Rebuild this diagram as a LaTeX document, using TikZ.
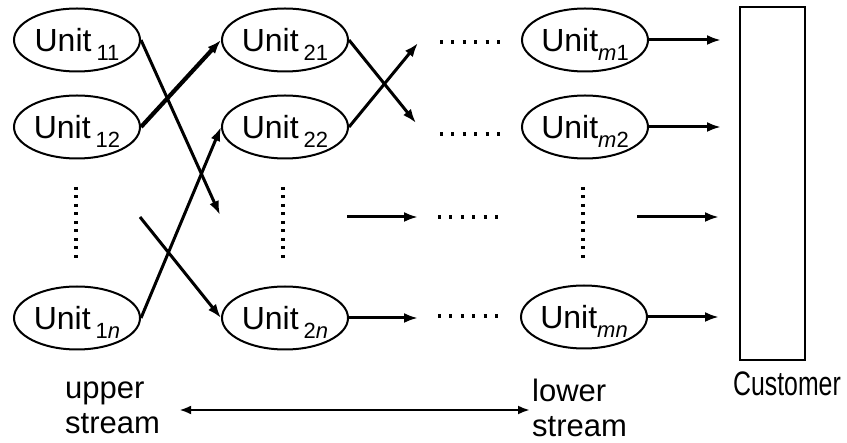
\documentclass[tikz,border=0pt]{standalone}
\usepackage{fontspec}
\setmainfont{Liberation Sans}
\usetikzlibrary{arrows.meta,shapes.geometric}
\newcommand\sbs[1]{\raisebox{-9pt}[0pt][0pt]{\fontsize{22}{22}\selectfont #1}}
\begin{document}
\begin{tikzpicture}[x=1pt,y=-1pt,
 unit/.style={draw, ellipse, line width=2pt, minimum width=126pt, minimum height=63pt, inner sep=0pt, font=\fontsize{32}{32}\selectfont},
 flow/.style={line width=3pt, -{Latex[length=14pt,width=10pt]}},
 thickflow/.style={flow, line width=4.2pt},
 dotl/.style={line width=3.2pt, dash pattern=on 3pt off 5.5pt},
 hdotl/.style={line width=3.2pt, dash pattern=on 3pt off 8.4pt},
 lbl/.style={inner sep=0pt, align=left, font=\fontsize{31}{35}\selectfont}]
\useasboundingbox (0,0) rectangle (847,443);
% column 1
\node[unit] (u11) at (77,40) {Unit\hspace{5pt}\sbs{11}};
\node[unit] (u12) at (77,127) {Unit\hspace{5pt}\sbs{12}};
\node[unit] (u1n) at (77,318) {Unit\hspace{5pt}\sbs{1\textit{n}}};
% column 2
\node[unit] (u21) at (285,40) {Unit\hspace{5pt}\sbs{21}};
\node[unit] (u22) at (285,127) {Unit\hspace{5pt}\sbs{22}};
\node[unit] (u2n) at (285,318) {Unit\hspace{5pt}\sbs{2\textit{n}}};
% column m
\node[unit] (um1) at (585,40) {Unit\sbs{\textit{m}1}};
\node[unit] (um2) at (585,127) {Unit\sbs{\textit{m}2}};
\node[unit] (umn) at (584,317) {Unit\sbs{\textit{mn}}};
% customer
\node[draw, line width=2pt, minimum width=65pt, minimum height=353pt, inner sep=0pt] (cust) at (772.5,183.5) {};
\node[inner sep=0pt, font=\fontsize{34}{34}\selectfont] (custl) at (787,384) {\scalebox{0.73}[1]{Customer}};
% free ends
\coordinate (e11) at (220,215);
\coordinate (s1n) at (140,217);
\coordinate (e21) at (416,123);
\coordinate (e22) at (418,43);
\coordinate (s3a) at (347,217);
\coordinate (e3a) at (418,217);
\coordinate (e2n) at (418,318);
\coordinate (em1) at (721,40);
\coordinate (em2) at (721,127);
\coordinate (s3b) at (637,217);
\coordinate (e3b) at (719,217);
\coordinate (emn) at (719,317);
% connectors
\draw[flow] (u11.east) -- (e11);
\draw[thickflow] (u12.east) -- (u21.west);
\draw[flow] (u1n.east) -- (u22.west);
\draw[flow] (s1n) -- (u2n.west);
\draw[flow] (u21.east) -- (e21);
\draw[flow] (u22.east) -- (e22);
\draw[flow] (s3a) -- (e3a);
\draw[flow] (u2n.east) -- (e2n);
\draw[flow] (um1.east) -- (em1);
\draw[flow] (um2.east) -- (em2);
\draw[flow] (s3b) -- (e3b);
\draw[flow] (umn.east) -- (emn);
% dotted lines
\draw[hdotl] (440,42) -- (500,42);
\draw[hdotl] (440,134) -- (500,134);
\draw[hdotl] (438,217) -- (498,217);
\draw[hdotl] (438,316) -- (498,316);
\draw[dotl] (76,187) -- (76,262);
\draw[dotl] (283,187) -- (283,262);
\draw[dotl] (583,187) -- (583,262);
% stream labels
\node[lbl, anchor=west] (up) at (65,408) {upper\\stream};
\node[lbl, anchor=west] (lo) at (532,408) {lower\\stream};
\draw[line width=2.4pt, {Latex[length=12pt,width=9pt]}-{Latex[length=12pt,width=9pt]}, shorten <=19pt, shorten >=2pt] (up.east |- 0,410) -- (lo.west |- 0,410);
\end{tikzpicture}
\end{document}
